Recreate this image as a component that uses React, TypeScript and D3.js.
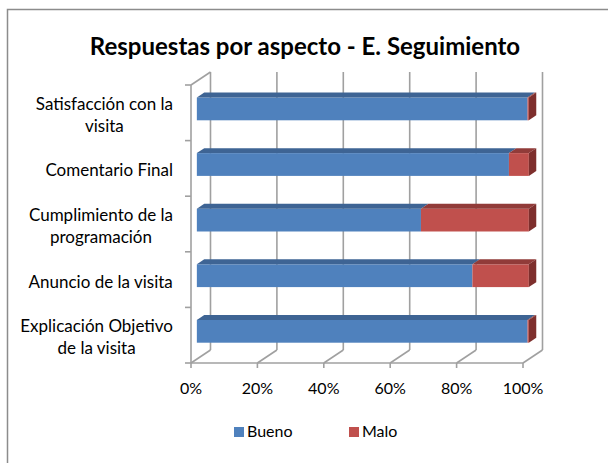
import * as d3 from "d3";

// categories, top to bottom as drawn
const categories = [
  ["Satisfacción con la", "visita"],
  ["Comentario Final"],
  ["Cumplimiento de la", "programación"],
  ["Anuncio de la visita"],
  ["Explicación Objetivo", "de la visita"],
];
const bueno = [99.6, 94, 67.5, 83, 99.6];
const malo = [0.4, 6, 32.5, 17, 0.4];
const seriesNames = ["Bueno", "Malo"];
const ticks = [0, 20, 40, 60, 80, 100];

const W = 608;
const H = 463;
const font = "Lato, 'Open Sans', sans-serif";
const labelSize = 17;

const front = { top: 85, bottom: 363, left: 191, right: 523 };
const depth = { dx: 19.5, dy: -13 };
// bar sits between these depth fractions
const zFront = 0.3;
const zBack = 0.68;

const colors = {
  Bueno: { front: "#4f81bd", top: "#3e6494", side: "#35577f" },
  Malo: { front: "#c0504d", top: "#913b39", side: "#7e2f2d" },
};
const grid = "#a0a0a0";

// measure text width so multi-line labels can be centred as a block
const ctx = document.createElement("canvas").getContext("2d")!;
const measure = (s: string) => {
  ctx.font = `${labelSize}px Lato`;
  return ctx.measureText(s).width;
};

const App = () => {
  const x = d3.scaleLinear().domain([0, 100]).range([front.left, front.right]);
  const y = d3
    .scaleBand<number>()
    .domain(d3.range(categories.length))
    .range([front.top, front.bottom])
    .paddingInner(0.59)
    .paddingOuter(0.295);

  const p = (v: number, yy: number, z: number) => [x(v) + z * depth.dx, yy + z * depth.dy];
  const pts = (a: number[][]) => a.map((d) => d.join(",")).join(" ");

  const stack = d3
    .stack<number>()
    .keys(seriesNames)
    .value((i, key) => (key === "Bueno" ? bueno[i] : malo[i]))(d3.range(categories.length));

  const bw = y.bandwidth();

  return (
    <svg
      width={W}
      height={H}
      viewBox={`0 0 ${W} ${H}`}
      style={{ position: "absolute", left: 0, top: 0, background: "#fff" }}
    >
      <rect x={7.5} y={9.5} width={W} height={H} fill="#fff" stroke="#8c8c8c" strokeWidth={1.5} />

      <text
        x={305}
        y={55}
        textAnchor="middle"
        fontFamily={font}
        fontWeight="bold"
        fontSize={24}
        fill="#000"
      >
        Respuestas por aspecto - E. Seguimiento
      </text>

      {/* walls and floor */}
      <g stroke={grid} strokeWidth={1.6} fill="none">
        {ticks.map((t) => (
          <g key={t}>
            <line x1={x(t) + depth.dx} x2={x(t) + depth.dx} y1={front.top + depth.dy} y2={front.bottom + depth.dy} />
            <line x1={x(t)} y1={front.bottom} x2={x(t) + depth.dx} y2={front.bottom + depth.dy} />
            <line x1={x(t)} x2={x(t)} y1={front.bottom} y2={front.bottom + 5} />
          </g>
        ))}
        <line x1={front.left} x2={front.right} y1={front.bottom} y2={front.bottom} />
        <line x1={front.left} x2={front.left} y1={front.top} y2={front.bottom} />
        <line x1={front.left} y1={front.top} x2={front.left + depth.dx} y2={front.top + depth.dy} />
        {d3.range(categories.length + 1).map((i) => {
          const yy = front.top + (i * (front.bottom - front.top)) / categories.length;
          return <line key={i} x1={front.left - 6} x2={front.left} y1={yy} y2={yy} />;
        })}
      </g>

      {/* bars */}
      {d3.range(categories.length).map((i) => {
        const y0 = y(i) as number;
        const y1 = y0 + bw;
        const last = stack.filter((s) => s[i][1] - s[i][0] > 0).slice(-1)[0];
        return (
          <g key={i}>
            {stack.map((s) => {
              const [a, b] = s[i];
              if (b - a <= 0) return null;
              const c = colors[s.key as "Bueno" | "Malo"];
              const f0 = p(a, y0, zFront);
              const f1 = p(b, y1, zFront);
              return (
                <g key={s.key}>
                  <rect x={f0[0]} y={f0[1]} width={f1[0] - f0[0]} height={f1[1] - f0[1]} fill={c.front} />
                  <polygon
                    points={pts([p(a, y0, zFront), p(b, y0, zFront), p(b, y0, zBack), p(a, y0, zBack)])}
                    fill={c.top}
                  />
                </g>
              );
            })}
            {last && (
              <polygon
                points={pts([p(100, y0, zFront), p(100, y0, zBack), p(100, y1, zBack), p(100, y1, zFront)])}
                fill={colors[last.key as "Bueno" | "Malo"].side}
              />
            )}
          </g>
        );
      })}

      {/* category labels: block right-aligned, lines centred */}
      {categories.map((lines, i) => {
        const cy = (y(i) as number) + bw / 2 + 2;
        const lh = 22;
        const wmax = d3.max(lines, measure) as number;
        const cx = 173 - wmax / 2;
        return (
          <text key={i} textAnchor="middle" fontFamily={font} fontSize={labelSize} fill="#000">
            {lines.map((l, j) => (
              <tspan key={j} x={cx} y={cy + (j - (lines.length - 1) / 2) * lh + 6}>
                {l}
              </tspan>
            ))}
          </text>
        );
      })}

      {/* x tick labels */}
      {ticks.map((t) => (
        <text key={t} x={x(t)} y={394} textAnchor="middle" fontFamily={font} fontSize={16} fill="#000">
          {t}%
        </text>
      ))}

      {/* legend */}
      {seriesNames.map((n, i) => (
        <g key={n} transform={`translate(${234 + i * 115},427)`}>
          <rect width={10} height={10} fill={colors[n as "Bueno" | "Malo"].front} />
          <text x={13} y={10} fontFamily={font} fontSize={16} fill="#000">
            {n}
          </text>
        </g>
      ))}
    </svg>
  );
};

export default App;
